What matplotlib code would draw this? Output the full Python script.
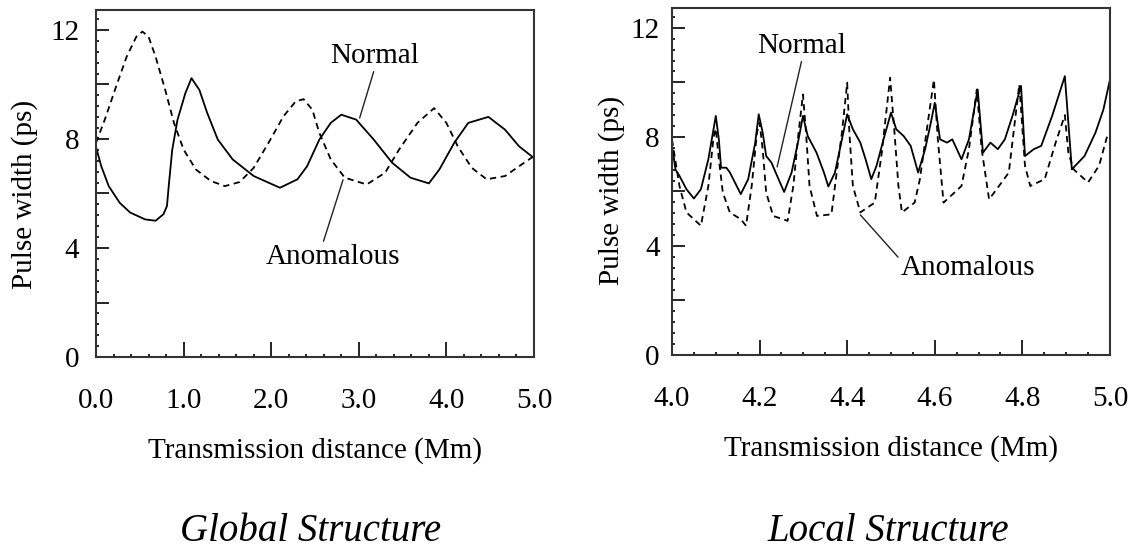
import matplotlib
matplotlib.use("Agg")
import matplotlib.pyplot as plt
from matplotlib.ticker import MultipleLocator

plt.rcParams['font.family'] = ['Liberation Serif', 'DejaVu Serif']

# 全局结构 (0-5 Mm)
g_x_normal = [0.0, 0.06, 0.145, 0.27, 0.39, 0.56, 0.68, 0.77, 0.81, 0.83, 0.87, 0.93,
              1.02, 1.09, 1.18, 1.27, 1.39, 1.56, 1.80, 2.10, 2.30, 2.41, 2.55, 2.68,
              2.80, 2.97, 3.17, 3.38, 3.59, 3.80, 3.92, 4.09, 4.25, 4.48, 4.67, 4.83, 5.0]
g_y_normal = [7.7, 7.0, 6.27, 5.66, 5.3, 5.05, 5.0, 5.24, 5.54, 6.27, 7.6, 8.7,
              9.68, 10.23, 9.8, 8.95, 7.98, 7.25, 6.64, 6.21, 6.52, 7.0, 7.98, 8.59,
              8.89, 8.71, 7.98, 7.13, 6.58, 6.37, 6.88, 7.86, 8.59, 8.81, 8.34, 7.73, 7.3]

g_x_anom = [0.0, 0.10, 0.23, 0.35, 0.46, 0.53, 0.60, 0.68, 0.79, 0.89, 1.0, 1.14,
            1.31, 1.47, 1.64, 1.80, 1.97, 2.14, 2.28, 2.37, 2.47, 2.55, 2.68, 2.84,
            3.09, 3.30, 3.46, 3.67, 3.86, 4.0, 4.13, 4.29, 4.46, 4.67, 4.83, 5.0]
g_y_anom = [7.86, 8.71, 9.93, 11.02, 11.75, 11.94, 11.75, 11.02, 9.8, 8.59, 7.61, 6.88,
            6.46, 6.27, 6.42, 6.94, 7.86, 8.83, 9.38, 9.46, 9.07, 8.22, 7.25, 6.58,
            6.33, 6.76, 7.61, 8.59, 9.13, 8.59, 7.73, 6.94, 6.52, 6.64, 7.0, 7.37]

# 局部结构 (4-5 Mm)
l_x_normal = [4.0, 4.008, 4.017, 4.033, 4.05, 4.066, 4.083, 4.1, 4.107, 4.112, 4.124, 4.132,
              4.157, 4.174, 4.19, 4.198, 4.207, 4.215, 4.227, 4.24, 4.256, 4.273, 4.289, 4.299,
              4.31, 4.33, 4.347, 4.357, 4.372, 4.388, 4.4, 4.413, 4.43, 4.442, 4.455, 4.467,
              4.483, 4.5, 4.512, 4.529, 4.545, 4.562, 4.578, 4.592, 4.6, 4.612, 4.628, 4.64,
              4.661, 4.678, 4.698, 4.71, 4.727, 4.744, 4.76, 4.778, 4.797, 4.806, 4.826, 4.843,
              4.868, 4.897, 4.913, 4.942, 4.967, 4.985, 5.0]
l_y_normal = [7.67, 6.8, 6.57, 6.08, 5.74, 6.08, 7.18, 8.77, 7.9, 6.87, 6.87, 6.7,
              5.9, 6.45, 7.79, 8.83, 8.16, 7.3, 7.06, 6.57, 5.98, 6.69, 7.91, 8.77,
              8.03, 7.42, 6.69, 6.18, 6.69, 7.91, 8.83, 8.28, 7.79, 7.18, 6.45, 6.94,
              7.91, 8.89, 8.28, 8.03, 7.67, 6.69, 7.55, 8.6, 9.25, 7.91, 7.79, 7.91,
              7.18, 7.91, 9.74, 7.42, 7.79, 7.55, 7.91, 8.8, 9.87, 7.3, 7.55, 7.67,
              8.77, 10.23, 6.81, 7.3, 8.16, 9.0, 10.1]

l_x_anom = [4.0, 4.017, 4.033, 4.066, 4.083, 4.095, 4.1, 4.107, 4.116, 4.132, 4.157, 4.169,
            4.182, 4.194, 4.2, 4.207, 4.215, 4.231, 4.264, 4.277, 4.289, 4.299, 4.306, 4.314,
            4.331, 4.364, 4.376, 4.388, 4.4, 4.405, 4.413, 4.43, 4.463, 4.479, 4.498, 4.508,
            4.517, 4.525, 4.554, 4.566, 4.583, 4.598, 4.607, 4.62, 4.645, 4.661, 4.678, 4.696,
            4.707, 4.724, 4.744, 4.769, 4.793, 4.806, 4.818, 4.851, 4.876, 4.897, 4.905, 4.917,
            4.95, 4.975, 4.996]
l_y_anom = [7.9, 6.2, 5.23, 4.74, 6.2, 8.0, 8.3, 7.18, 5.96, 5.23, 4.98, 4.74,
            6.2, 8.16, 8.52, 7.55, 5.96, 5.1, 4.92, 6.2, 8.16, 9.56, 8.16, 6.2,
            5.1, 5.16, 6.69, 8.16, 9.99, 8.16, 6.2, 5.23, 5.59, 7.42, 10.17, 8.16,
            6.2, 5.23, 5.59, 6.45, 8.4, 10.1, 7.91, 5.59, 5.96, 6.2, 7.55, 9.74,
            7.55, 5.71, 6.14, 6.69, 9.93, 6.94, 6.2, 6.45, 7.79, 8.8, 7.42, 6.81,
            6.33, 6.94, 8.16]

y_ticks = [0, 2, 4, 6, 8, 10, 12]
y_tick_labels = ['0', '', '4', '', '8', '', '12']
g_x_ticks = [0, 1, 2, 3, 4, 5]
g_x_tick_labels = ['0.0', '1.0', '2.0', '3.0', '4.0', '5.0']
l_x_ticks = [4.0, 4.2, 4.4, 4.6, 4.8, 5.0]
l_x_tick_labels = ['4.0', '4.2', '4.4', '4.6', '4.8', '5.0']

FS = 21


def style_axes(ax, xticks, xlabels, xminor, xlim, ypad):
    ax.set_xlim(*xlim)
    ax.set_ylim(0, 12.73)
    ax.set_xticks(xticks)
    ax.set_xticklabels(xlabels)
    ax.set_yticks(y_ticks)
    ax.set_yticklabels(y_tick_labels)
    ax.xaxis.set_minor_locator(MultipleLocator(xminor))
    ax.yaxis.set_minor_locator(MultipleLocator(0.4))
    ax.tick_params(axis='x', which='major', direction='in', length=11, width=1.2,
                   labelsize=FS, pad=22)
    ax.tick_params(axis='y', which='major', direction='in', length=9, width=1.2,
                   labelsize=FS, pad=ypad)
    ax.tick_params(which='minor', direction='in', length=2.5, width=1.2)
    ax.tick_params(top=False, right=False, which='both')
    for s in ax.spines.values():
        s.set_linewidth(1.5)
        s.set_color('#333333')
    ax.set_xlabel('Transmission distance (Mm)', fontsize=FS)
    ax.set_ylabel('Pulse width (ps)', fontsize=FS)


fig = plt.figure(figsize=(11.39, 5.57), dpi=100)
ax1 = fig.add_axes([0.0843, 0.359, 0.3845, 0.623])
ax2 = fig.add_axes([0.590, 0.3627, 0.3845, 0.623])

ax1.plot(g_x_normal, g_y_normal, color='black', lw=1.3)
ax1.plot(g_x_anom, g_y_anom, color='black', lw=1.3, linestyle=(0, (3.5, 2.5)))
style_axes(ax1, g_x_ticks, g_x_tick_labels, 0.2, (0, 5), 12)
ax1.xaxis.set_label_coords(0.5, -0.23)
ax1.yaxis.set_label_coords(-0.133, 0.47)

ax2.plot(l_x_normal, l_y_normal, color='black', lw=1.3)
ax2.plot(l_x_anom, l_y_anom, color='black', lw=1.3, linestyle=(0, (3.5, 2.5)))
style_axes(ax2, l_x_ticks, l_x_tick_labels, 0.05, (4, 5), 9)
ax2.xaxis.set_label_coords(0.5, -0.23)
ax2.yaxis.set_label_coords(-0.107, 0.475)

arrow = dict(arrowstyle='-', lw=1.0, color='#222222', shrinkA=0, shrinkB=0)
ax1.annotate('Normal', xy=(3.01, 8.77), xytext=(3.18, 11.05), fontsize=FS,
             ha='center', va='center', arrowprops=dict(arrow, relpos=(0.5, 0.0)))
ax1.annotate('Anomalous', xy=(2.82, 6.5), xytext=(2.71, 3.67), fontsize=FS,
             ha='center', va='center', arrowprops=dict(arrow, relpos=(0.42, 1.0)))
ax2.annotate('Normal', xy=(4.24, 6.9), xytext=(4.297, 11.34), fontsize=FS,
             ha='center', va='center', arrowprops=dict(arrow, relpos=(0.5, 0.0)))
ax2.annotate('Anomalous', xy=(4.43, 5.14), xytext=(4.676, 3.19), fontsize=FS,
             ha='center', va='center', arrowprops=dict(arrow, relpos=(0.0, 0.8)))

fig.text(0.273, 0.045, 'Global Structure', fontsize=28, style='italic',
         ha='center', va='center')
fig.text(0.780, 0.045, 'Local Structure', fontsize=28, style='italic',
         ha='center', va='center')

fig.savefig('out.png', dpi=100)
plt.close(fig)
